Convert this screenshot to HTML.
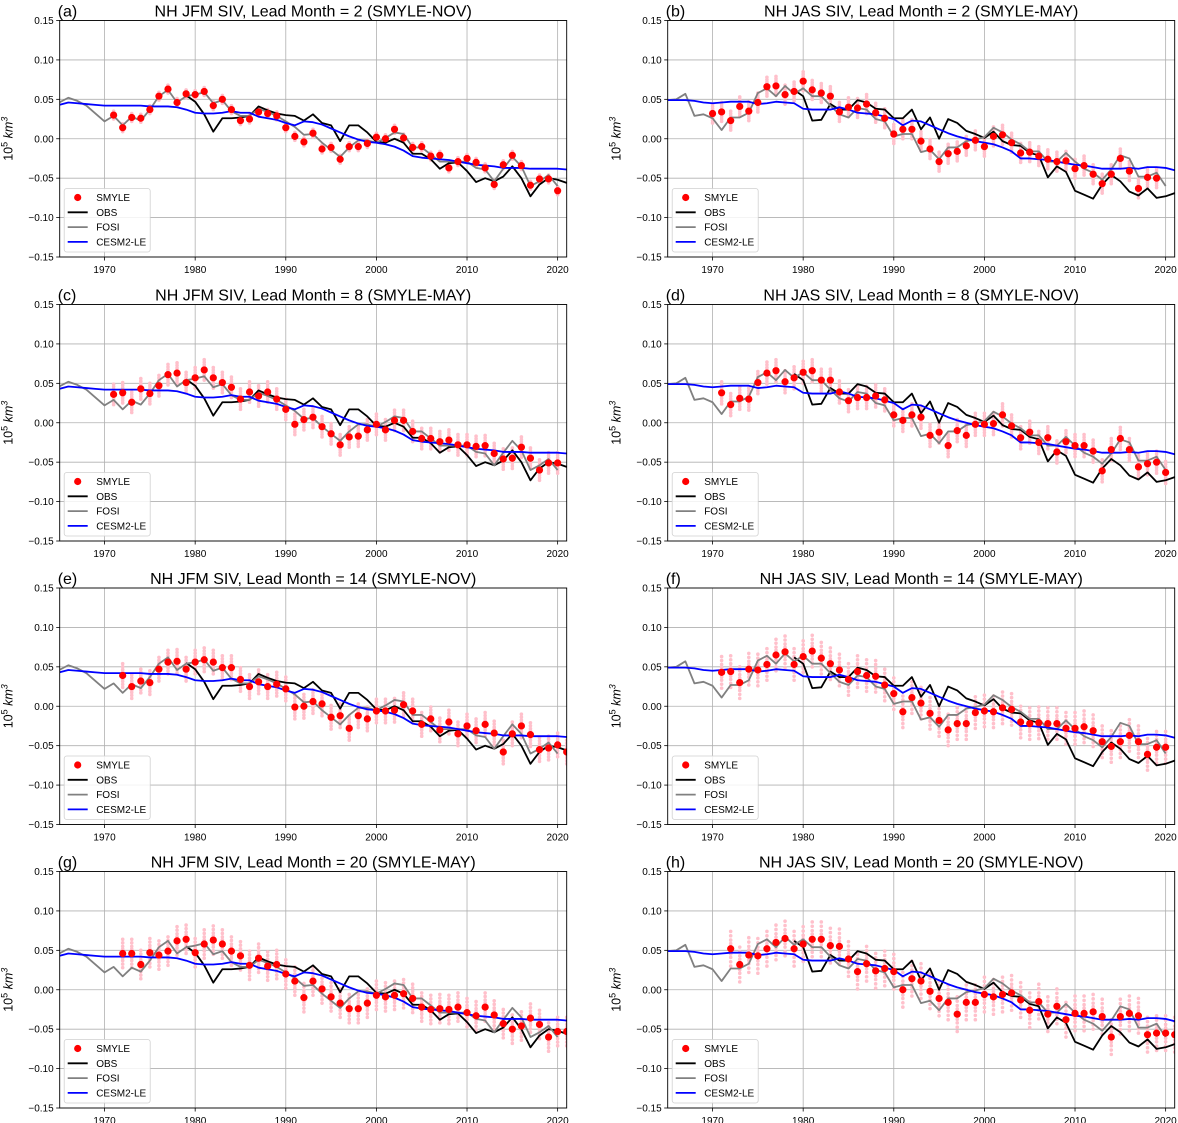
<!DOCTYPE html>
<html><head><meta charset="utf-8">
<style>
html,body{margin:0;padding:0;background:#fff;}
svg{display:block;font-family:"Liberation Sans","DejaVu Sans",sans-serif;}
</style></head>
<body>
<svg id="fig" width="1178" height="1123" viewBox="0 0 1178 1123" xmlns="http://www.w3.org/2000/svg"></svg>
<script>
// ---------- data ----------
const jfmFosiStart = 1965;
const jfmFosi = [0.046,0.052,0.048,0.042,0.032,0.022,0.029,0.017,0.028,0.023,
 0.037,0.054,0.062,0.046,0.054,0.056,0.059,0.045,0.049,0.035,
 0.029,0.029,0.038,0.034,0.029,0.022,0.015,0.005,0.006,-0.005,
 -0.014,-0.023,-0.011,-0.002,-0.002,-0.005,0.001,0.008,0.006,-0.011,
 -0.011,-0.020,-0.029,-0.029,-0.029,-0.029,-0.037,-0.039,-0.054,-0.038,
 -0.023,-0.035,-0.060,-0.054,-0.046,-0.060];
const jfmObsStart = 1979;
const jfmObs = [0.055,0.047,0.031,0.009,0.026,0.026,0.027,0.029,0.041,0.036,
 0.032,0.030,0.029,0.023,0.031,0.020,0.017,-0.003,0.017,0.017,
 0.008,-0.004,-0.005,0.000,-0.005,-0.019,-0.019,-0.026,-0.038,-0.031,
 -0.030,-0.041,-0.055,-0.050,-0.054,-0.048,-0.035,-0.050,-0.073,-0.058,
 -0.050,-0.052,-0.056];
const jfmLeStart = 1965;
const jfmLe = [0.043,0.046,0.045,0.044,0.043,0.042,0.042,0.042,0.042,0.042,
 0.041,0.041,0.041,0.040,0.037,0.033,0.032,0.032,0.033,0.035,
 0.033,0.033,0.028,0.026,0.024,0.020,0.017,0.022,0.021,0.018,
 0.013,0.008,0.003,-0.001,-0.004,-0.005,-0.007,-0.010,-0.015,-0.022,
 -0.024,-0.025,-0.026,-0.027,-0.029,-0.031,-0.033,-0.034,-0.035,-0.037,
 -0.037,-0.037,-0.038,-0.038,-0.038,-0.038,-0.039];
const jasFosiStart = 1965;
const jasFosi = [0.049,0.050,0.057,0.029,0.031,0.026,0.011,0.027,0.027,0.033,
 0.058,0.064,0.054,0.067,0.057,0.064,0.054,0.054,0.042,0.031,
 0.027,0.039,0.037,0.025,0.022,0.003,0.006,0.006,-0.017,-0.014,
 -0.026,-0.011,-0.011,-0.003,-0.001,0.002,0.014,0.008,-0.001,-0.007,
 -0.016,-0.016,-0.029,-0.029,-0.018,-0.029,-0.038,-0.043,-0.052,-0.039,
 -0.021,-0.025,-0.048,-0.048,-0.043,-0.060];
const jasObsStart = 1979;
const jasObs = [0.062,0.054,0.023,0.024,0.044,0.037,0.037,0.049,0.046,0.038,
 0.037,0.026,0.026,0.037,0.012,0.027,0.000,0.025,0.020,0.010,
 0.006,0.001,0.009,-0.003,-0.008,-0.009,-0.018,-0.021,-0.049,-0.035,
 -0.042,-0.066,-0.071,-0.076,-0.058,-0.046,-0.054,-0.067,-0.072,-0.063,
 -0.075,-0.073,-0.069];
const jasLeStart = 1965;
const jasLe = [0.049,0.049,0.049,0.048,0.046,0.045,0.046,0.047,0.047,0.047,
 0.044,0.045,0.047,0.046,0.045,0.038,0.037,0.037,0.037,0.040,
 0.037,0.033,0.032,0.031,0.028,0.025,0.017,0.023,0.022,0.017,
 0.012,0.007,0.003,0.000,-0.003,-0.005,-0.007,-0.011,-0.016,-0.025,
 -0.025,-0.026,-0.027,-0.029,-0.031,-0.033,-0.034,-0.036,-0.038,-0.038,
 -0.038,-0.037,-0.038,-0.036,-0.036,-0.037,-0.040];

const smyleA = [0.030,0.014,0.027,0.026,0.037,0.054,0.063,0.046,0.057,0.056,0.060,0.042,0.050,0.037,0.023,0.025,0.034,0.032,0.029,0.014,0.003,-0.004,0.007,-0.013,-0.011,-0.026,-0.010,-0.010,-0.006,0.002,0.000,0.012,0.001,-0.011,-0.010,-0.022,-0.021,-0.037,-0.029,-0.025,-0.030,-0.037,-0.058,-0.033,-0.021,-0.034,-0.059,-0.051,-0.051,-0.066];
const smyleB = [0.032,0.034,0.023,0.041,0.035,0.046,0.066,0.067,0.056,0.060,0.073,0.062,0.058,0.054,0.034,0.040,0.039,0.044,0.033,0.026,0.006,0.012,0.012,-0.003,-0.013,-0.029,-0.019,-0.016,-0.009,-0.002,-0.010,0.003,0.005,-0.005,-0.018,-0.017,-0.022,-0.026,-0.029,-0.028,-0.038,-0.034,-0.045,-0.057,-0.045,-0.025,-0.041,-0.063,-0.049,-0.050];
const smyleC = [0.036,0.038,0.026,0.043,0.037,0.047,0.061,0.063,0.051,0.057,0.067,0.057,0.051,0.045,0.030,0.039,0.034,0.039,0.030,0.017,-0.002,0.004,0.007,-0.005,-0.014,-0.028,-0.018,-0.017,-0.009,-0.002,-0.009,0.003,0.003,-0.011,-0.020,-0.020,-0.024,-0.022,-0.028,-0.028,-0.030,-0.029,-0.039,-0.046,-0.045,-0.031,-0.045,-0.060,-0.051,-0.051];
const smyleD = [0.038,0.023,0.031,0.030,0.051,0.063,0.066,0.052,0.057,0.064,0.066,0.054,0.054,0.039,0.028,0.032,0.032,0.034,0.029,0.010,0.003,0.010,0.007,-0.016,-0.012,-0.029,-0.010,-0.016,-0.002,-0.002,-0.001,0.010,-0.004,-0.019,-0.012,-0.025,-0.019,-0.037,-0.024,-0.029,-0.029,-0.036,-0.061,-0.034,-0.020,-0.034,-0.056,-0.052,-0.050,-0.063];
const smyleE = [0.039,0.025,0.032,0.030,0.047,0.056,0.057,0.047,0.056,0.059,0.056,0.049,0.049,0.034,0.025,0.031,0.025,0.028,0.022,-0.001,0.000,0.006,0.003,-0.014,-0.012,-0.028,-0.012,-0.016,-0.006,-0.006,-0.005,0.002,-0.006,-0.023,-0.016,-0.030,-0.020,-0.035,-0.025,-0.031,-0.023,-0.034,-0.058,-0.035,-0.025,-0.036,-0.055,-0.053,-0.049,-0.058];
const smyleF = [0.043,0.044,0.030,0.047,0.046,0.053,0.065,0.069,0.053,0.063,0.070,0.061,0.054,0.046,0.034,0.044,0.039,0.038,0.027,0.016,-0.007,0.011,0.004,-0.009,-0.018,-0.030,-0.022,-0.022,-0.008,-0.006,-0.007,-0.002,-0.004,-0.020,-0.022,-0.021,-0.022,-0.022,-0.028,-0.028,-0.026,-0.031,-0.045,-0.051,-0.045,-0.037,-0.045,-0.061,-0.052,-0.052];
const smyleG = [0.046,0.046,0.032,0.047,0.044,0.049,0.062,0.064,0.047,0.058,0.063,0.058,0.049,0.043,0.031,0.040,0.030,0.032,0.020,0.011,-0.010,0.011,0.001,-0.009,-0.017,-0.024,-0.024,-0.017,-0.007,-0.009,-0.007,-0.005,-0.011,-0.022,-0.025,-0.024,-0.025,-0.022,-0.029,-0.033,-0.022,-0.032,-0.043,-0.050,-0.046,-0.036,-0.044,-0.060,-0.053,-0.053];
const smyleH = [0.052,0.032,0.044,0.043,0.052,0.060,0.065,0.052,0.058,0.064,0.064,0.056,0.055,0.039,0.023,0.033,0.024,0.027,0.023,0.000,0.014,0.011,-0.002,-0.011,-0.016,-0.031,-0.016,-0.016,-0.006,-0.009,-0.006,-0.004,-0.013,-0.026,-0.015,-0.031,-0.021,-0.038,-0.030,-0.030,-0.028,-0.034,-0.060,-0.034,-0.030,-0.033,-0.057,-0.055,-0.055,-0.057];
const smyleStarts = [1971,1970,1971,1971,1972,1971,1972,1972];
const memberSpread = [0.005,0.012,0.013,0.014,0.015,0.020,0.018,0.022];
const memberOffsets = [-1,-0.75,-0.5,-0.3,-0.12,0.12,0.3,0.5,0.75,1];

const panelLetters = ['a','b','c','d','e','f','g','h'];
const panelTitles = ['NH JFM SIV, Lead Month = 2 (SMYLE-NOV)','NH JAS SIV, Lead Month = 2 (SMYLE-MAY)',
 'NH JFM SIV, Lead Month = 8 (SMYLE-MAY)','NH JAS SIV, Lead Month = 8 (SMYLE-NOV)',
 'NH JFM SIV, Lead Month = 14 (SMYLE-NOV)','NH JAS SIV, Lead Month = 14 (SMYLE-MAY)',
 'NH JFM SIV, Lead Month = 20 (SMYLE-MAY)','NH JAS SIV, Lead Month = 20 (SMYLE-NOV)'];
const yTicks = [0.15,0.10,0.05,0.00,-0.05,-0.10,-0.15];
const yTickLabels = ['0.15','0.10','0.05','0.00','\u22120.05','\u22120.10','\u22120.15'];
const xTicks = [1970,1980,1990,2000,2010,2020];
const legendLabels = ['SMYLE','OBS','FOSI','CESM2-LE'];

// ---------- drawing ----------
const NS = 'http://www.w3.org/2000/svg';
const svg = document.getElementById('fig');
function mk(tag, attrs, parent){
  const e = document.createElementNS(NS, tag);
  for (const k in attrs) e.setAttribute(k, attrs[k]);
  (parent||svg).appendChild(e);
  return e;
}
const smyleAll = [smyleA,smyleB,smyleC,smyleD,smyleE,smyleF,smyleG,smyleH];
const colX = [59.7, 667.7];
const rowY = [20.5, 304.5, 588, 871.5];
const W = 507, H = 236.5;
const X0 = 1965.05, X1 = 2021.0, Y0 = -0.15, Y1 = 0.15;

function drawPanel(i){
  const left = colX[i%2], top = rowY[Math.floor(i/2)];
  const xs = yr => left + (yr - X0)/(X1 - X0)*W;
  const ys = v => top + (Y1 - v)/(Y1 - Y0)*H;
  const isJFM = (i%2)===0;
  const g = mk('g', {});
  
  
  const clipId = 'clip' + i;
  const cp = mk('clipPath', {id: clipId}, g);
  mk('rect', {x: left, y: top, width: W, height: H}, cp);

  const grid = mk('g', {}, g);
  
  
  yTicks.forEach(t => mk('line', {x1:left, x2:left+W, y1:ys(t), y2:ys(t), stroke:'#b0b0b0', 'stroke-width':0.8}, grid));
  xTicks.forEach(t => mk('line', {x1:xs(t), x2:xs(t), y1:top, y2:top+H, stroke:'#b0b0b0', 'stroke-width':0.8}, grid));

  const plot = mk('g', {'clip-path':'url(#' + clipId + ')'}, g);
  const sm = smyleAll[i], st = smyleStarts[i];
  const mem = mk('g', {}, plot);
  
  
  sm.forEach((v, k) => {
    memberOffsets.forEach(o => {
      mk('circle', {cx: xs(st+k), cy: ys(v + o*memberSpread[i]), r: 1.8, fill: '#ffc0cb'}, mem);
    });
  });
  function line(arr, start, color, name){
    const pts = arr.map((v,k) => xs(start+k).toFixed(2) + ',' + ys(v).toFixed(2)).join(' ');
    const p = mk('polyline', {points: pts, fill:'none', stroke: color, 'stroke-width': 1.8, 'stroke-linejoin':'round'}, plot);
    
    
  }
  line(isJFM ? jfmObs : jasObs, isJFM ? jfmObsStart : jasObsStart, '#000000', 'obs-line');
  line(isJFM ? jfmFosi : jasFosi, isJFM ? jfmFosiStart : jasFosiStart, '#808080', 'fosi-line');
  line(isJFM ? jfmLe : jasLe, isJFM ? jfmLeStart : jasLeStart, '#0000ff', 'cesm2-le-line');
  const mg = mk('g', {}, plot);
  
  
  sm.forEach((v, k) => {
    const c = mk('circle', {cx: xs(st+k), cy: ys(v), r: 3.6, fill: '#ff0000'}, mg);
    
    
  });

  const fr = mk('rect', {x:left, y:top, width:W, height:H, fill:'none', stroke:'#000', 'stroke-width':0.9}, g);
  
  

  yTicks.forEach((t, k) => {
    mk('line', {x1:left-3.5, x2:left, y1:ys(t), y2:ys(t), stroke:'#000', 'stroke-width':0.8}, g);
    const tx = mk('text', {x:left-6, y:ys(t)+3.5, 'font-size':10, 'text-anchor':'end', fill:'#000'}, g);
    tx.textContent = yTickLabels[k];
    
    
  });
  xTicks.forEach(t => {
    mk('line', {x1:xs(t), x2:xs(t), y1:top+H, y2:top+H+3.5, stroke:'#000', 'stroke-width':0.8}, g);
    const tx = mk('text', {x:xs(t), y:top+H+16, 'font-size':10, 'text-anchor':'middle', fill:'#000'}, g);
    tx.textContent = String(t);
    
    
  });
  const yl = mk('text', {transform:'translate(' + (left-47) + ',' + (top+H/2) + ') rotate(-90)', 'font-size':12.5, 'text-anchor':'middle', fill:'#000'}, g);
  
  
  const t1 = mk('tspan', {}, yl); t1.textContent = '10';
  const t2 = mk('tspan', {dy:-5, 'font-size':9}, yl); t2.textContent = '5';
  const t3 = mk('tspan', {dy:5, 'font-style':'italic'}, yl); t3.textContent = ' km';
  const t4 = mk('tspan', {dy:-5, 'font-size':9, 'font-style':'italic'}, yl); t4.textContent = '3';

  const lt = mk('text', {x:left-2, y:top-4, 'font-size':16, fill:'#000'}, g);
  lt.textContent = '(' + panelLetters[i] + ')';
  
  
  const tt = mk('text', {x:left+W/2, y:top-4, 'font-size':16, 'text-anchor':'middle', fill:'#000'}, g);
  tt.textContent = panelTitles[i];
  
  

  const lg = mk('g', {}, g);
  
  
  const lx = left + 4.5, ly = top + H - 68.5;
  mk('rect', {x:lx, y:ly, width:86, height:63.5, rx:2.5, fill:'#fff', 'fill-opacity':0.85, stroke:'#d0d0d0', 'stroke-width':0.8}, lg);
  const colors = ['#ff0000','#000000','#808080','#0000ff'];
  legendLabels.forEach((lab, k) => {
    const yy = ly + 9 + k*14.8;
    const ent = mk('g', {}, lg);
    
    
    if (k === 0) mk('circle', {cx:lx+13.5, cy:yy, r:3.6, fill:colors[0]}, ent);
    else mk('line', {x1:lx+3.5, x2:lx+23.5, y1:yy, y2:yy, stroke:colors[k], 'stroke-width':1.8}, ent);
    const tx = mk('text', {x:lx+32, y:yy+3.5, 'font-size':10, fill:'#000'}, ent);
    tx.textContent = lab;
  });
}
for (let i = 0; i < 8; i++) drawPanel(i);
</script>
</body></html>
